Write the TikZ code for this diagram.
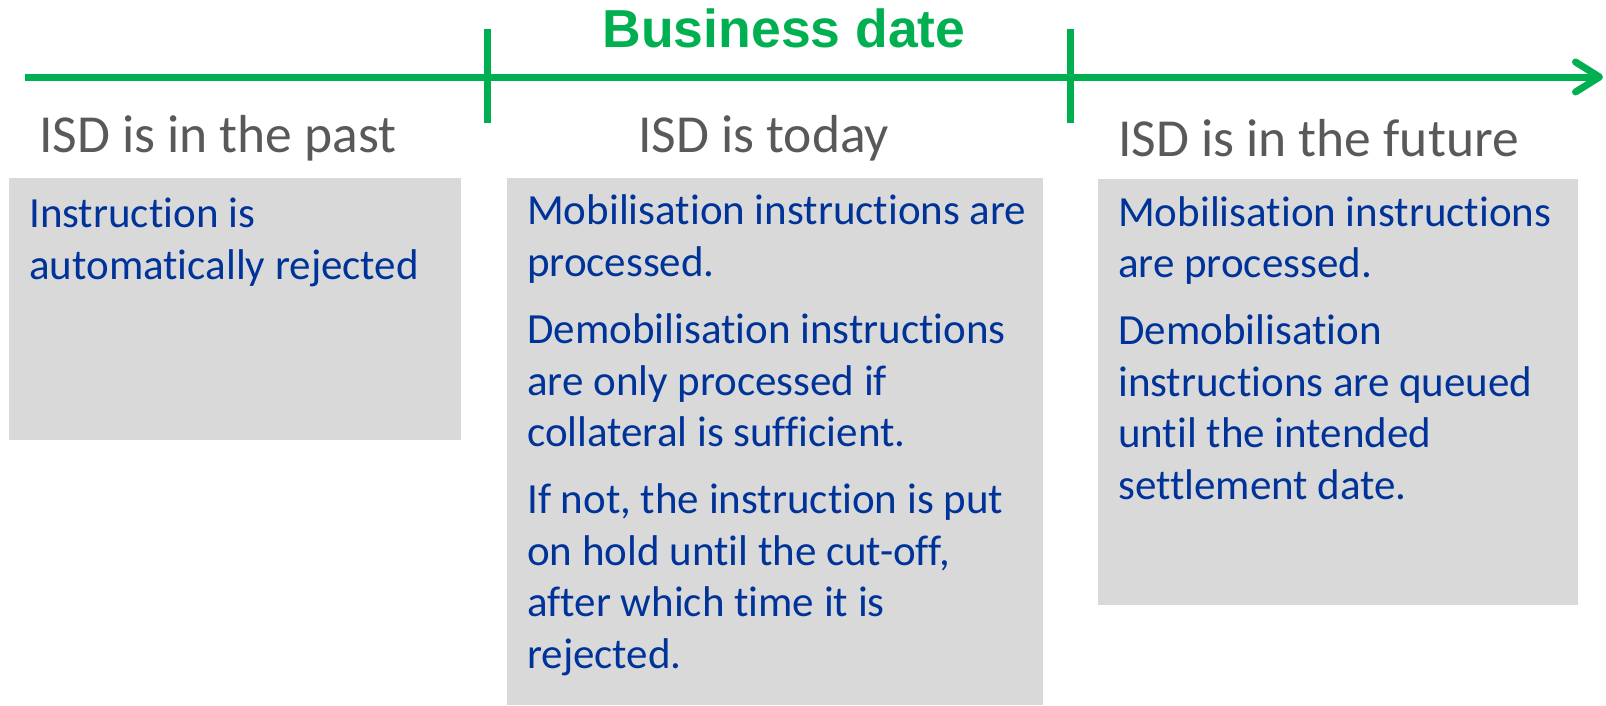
\documentclass[tikz,border=0pt]{standalone}
\usepackage{fontspec}
\setmainfont{Carlito}[Ligatures=NoCommon]
\newfontfamily\titlefont{Liberation Sans}
\usetikzlibrary{arrows.meta,positioning}
\definecolor{dategreen}{HTML}{00B050}
\definecolor{boxgray}{HTML}{D9D9D9}
\definecolor{textblue}{HTML}{003399}
\definecolor{headgray}{HTML}{595959}
\tikzset{
 panel/.style={fill=boxgray,anchor=north west,inner sep=0pt},
 bodytext/.style={text=textblue,font=\fontsize{43}{51.4}\selectfont,anchor=base west,align=left,inner sep=0pt},
 heading/.style={text=headgray,font=\fontsize{53.5}{60}\selectfont,anchor=base west,inner sep=0pt},
 tickmark/.style={dategreen,line width=7pt},
}
\begin{document}
\begin{tikzpicture}[x=1pt,y=-1pt]
 \useasboundingbox (0,0) rectangle (1606,705);
 \coordinate (start) at (25,77); \coordinate (end) at (1603,77); %time axis
 \draw[->,>={Straight Barb[round,length=24pt,width=30pt]},line width=7pt,dategreen] (start)--(end);
 \foreach \x/\n in {487/today,1070/future}
  \draw[tickmark] (\x,29) coordinate (\n top)--(\x,123) coordinate (\n bottom); %day limits
 \node[font=\titlefont\bfseries\fontsize{53.5}{60}\selectfont,text=dategreen,anchor=base,inner sep=0pt] (title) at (784,47) {Business date};
 \node[heading] (pasthead) at (39,152) {ISD is in the past};
 \node[heading] (todayhead) at (638,152) {ISD is today};
 \node[heading] (futurehead) at (1118,156) {ISD is in the future};
 \node[panel,minimum width=452pt,minimum height=262pt] (pastbox) at (9,178) {};
 \node[panel,minimum width=536pt,minimum height=527pt] (todaybox) at (507,178) {};
 \node[panel,minimum width=480pt,minimum height=426pt] (futurebox) at (1098,179) {};
 %base anchor = last line
 \node[bodytext] (pasttext) at (29,279) {Instruction is\\automatically rejected};
 \node[bodytext] (todaytext) at (527,668) {Mobilisation instructions are\\processed.\\[16pt]Demobilisation instructions\\are only processed if\\collateral is sufficient.\\[16pt]If not, the instruction is put\\on hold until the cut-off,\\after which time it is\\rejected.};
 \node[bodytext] (futuretext) at (1118,499) {Mobilisation instructions\\are processed.\\[16pt]Demobilisation\\instructions are queued\\until the intended\\settlement date.};
\end{tikzpicture}
\end{document}
